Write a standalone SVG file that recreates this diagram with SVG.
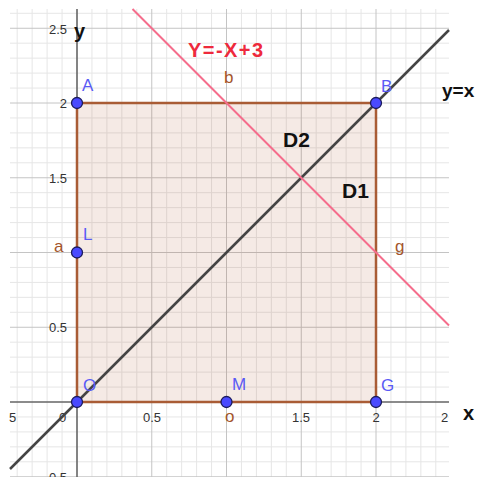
<svg xmlns="http://www.w3.org/2000/svg" width="477" height="477" viewBox="0 0 477 477">
<style>
.minor{stroke:#e6e6e6;stroke-width:1;fill:none}
.major{stroke:#c4c4c4;stroke-width:1;fill:none}
.axis{stroke:#666;stroke-width:1.6;fill:none}
.tick{font-family:"Liberation Sans",Arial,sans-serif;font-size:13px;fill:#333}
.axlbl{font-family:"Liberation Sans",Arial,sans-serif;font-size:20px;font-weight:bold;fill:#111}
.pt{fill:#4a4aff;stroke:#1c1c5c;stroke-width:1.3}
.plbl{font-family:"Liberation Sans",Arial,sans-serif;font-size:17px;fill:#5a5af5}
.blbl{font-family:"Liberation Sans",Arial,sans-serif;font-size:17px;fill:#a4552b}
.bold{font-family:"Liberation Sans",Arial,sans-serif;font-weight:bold;fill:#111}
</style>
<rect width="477" height="477" fill="#fff"/>
<g id="grid">
<path class="minor" d="M17.2 9V477M32.15 9V477M47.1 9V477M62.05 9V477M91.95 9V477M106.9 9V477M121.85 9V477M136.8 9V477M166.7 9V477M181.65 9V477M196.6 9V477M211.55 9V477M241.45 9V477M256.4 9V477M271.35 9V477M286.3 9V477M316.2 9V477M331.15 9V477M346.1 9V477M361.05 9V477M390.95 9V477M405.9 9V477M420.85 9V477M435.8 9V477M10 461.8H449M10 446.85H449M10 431.9H449M10 416.95H449M10 387.05H449M10 372.1H449M10 357.15H449M10 342.2H449M10 312.3H449M10 297.35H449M10 282.4H449M10 267.45H449M10 237.55H449M10 222.6H449M10 207.65H449M10 192.7H449M10 162.8H449M10 147.85H449M10 132.9H449M10 117.95H449M10 88.05H449M10 73.1H449M10 58.15H449M10 43.2H449M10 13.3H449"/>
<path class="major" d="M151.75 9V477M226.5 9V477M301.25 9V477M376 9V477M10 476.75H449M10 327.25H449M10 252.5H449M10 177.75H449M10 103H449M10 28.25H449"/>
</g>
<g id="axes">
<path class="axis" d="M10 402H449M77 9V477"/>
<text class="tick" x="67" y="34" text-anchor="end">2.5</text>
<text class="tick" x="67" y="108" text-anchor="end">2</text>
<text class="tick" x="67" y="183" text-anchor="end">1.5</text>
<text class="tick" x="67" y="332" text-anchor="end">0.5</text>
<text class="tick" x="67" y="482" text-anchor="end">−0.5</text>
<text class="tick" x="9" y="422">5</text>
<text class="tick" x="59" y="422">0</text>
<text class="tick" x="152" y="422" text-anchor="middle">0.5</text>
<text class="tick" x="301" y="422" text-anchor="middle">1.5</text>
<text class="tick" x="376" y="422" text-anchor="middle">2</text>
<text class="tick" x="441" y="422">2</text>
<text class="axlbl" x="463" y="420">x</text>
<text class="axlbl" x="74" y="38">y</text>
</g>
<g id="region">
<rect x="77" y="103" width="299" height="299" fill="#993300" fill-opacity="0.1" stroke="#a95c35" stroke-width="2.5"/>
</g>
<g id="connectors">
<line id="line-yx" x1="10" y1="469" x2="449" y2="30" stroke="#444" stroke-width="2.5"/>
<line id="line-y3" x1="132.5" y1="9" x2="449" y2="325.5" stroke="#f56d8c" stroke-width="2"/>
</g>
<g id="labels">
<text class="bold" x="188" y="57" font-size="20" textLength="75" lengthAdjust="spacing" style="fill:#ee2a3c">Y=-X+3</text>
<text class="bold" x="442" y="97" font-size="19">y=x</text>
<text class="bold" x="283" y="147" font-size="21">D2</text>
<text class="bold" x="342" y="198" font-size="21">D1</text>
<text class="blbl" x="224" y="83">b</text>
<text class="blbl" x="395" y="252">g</text>
<text class="blbl" x="54" y="252">a</text>
<text class="blbl" x="225" y="422">o</text>
</g>
<g id="point-A"><circle class="pt" cx="77" cy="103" r="5.5"/><text class="plbl" x="82" y="91">A</text></g>
<g id="point-B"><circle class="pt" cx="376" cy="103" r="5.5"/><text class="plbl" x="381" y="92">B</text></g>
<g id="point-G"><circle class="pt" cx="376" cy="402" r="5.5"/><text class="plbl" x="381" y="391">G</text></g>
<g id="point-O"><circle class="pt" cx="77" cy="402" r="5.5"/><text class="plbl" x="83" y="391">O</text></g>
<g id="point-L"><circle class="pt" cx="77" cy="252.5" r="5.5"/><text class="plbl" x="83" y="240">L</text></g>
<g id="point-M"><circle class="pt" cx="226.5" cy="402" r="5.5"/><text class="plbl" x="232" y="390">M</text></g>
</svg>
